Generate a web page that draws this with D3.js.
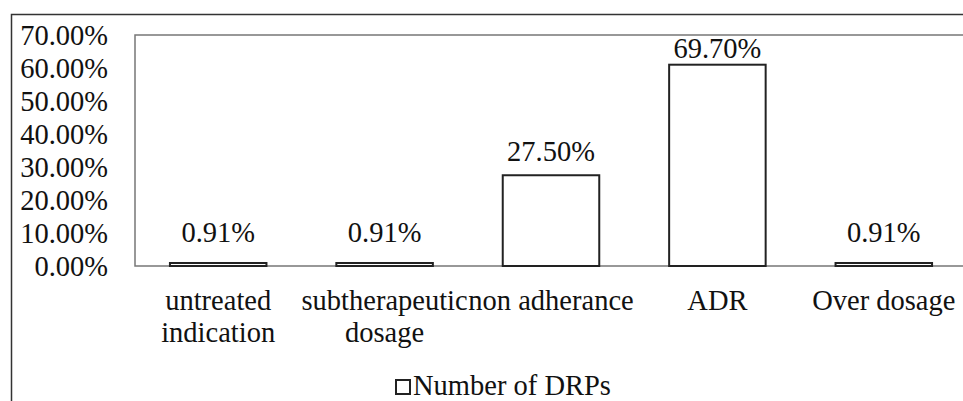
<!DOCTYPE html>
<html>
<head>
<meta charset="utf-8">
<script src="https://cdn.jsdelivr.net/npm/d3@7"></script>
<style>
  body { margin: 0; background: #fff; }
  svg text { font-family: "Liberation Serif", "Times New Roman", serif; fill: #111; }
</style>
</head>
<body>
<div id="chart"></div>
<script>
const categories = ["untreated\nindication", "subtherapeutic\ndosage", "non adherance", "ADR", "Over dosage"];
const values = [0.91, 0.91, 27.5, 61, 0.91];
const valueLabels = ["0.91%", "0.91%", "27.50%", "69.70%", "0.91%"];
const yTicks = [0, 10, 20, 30, 40, 50, 60, 70];
const seriesName = "Number of DRPs";

const W = 963, H = 401;
const plot = { left: 135, top: 35, right: 967, bottom: 266 };
const fontSize = 28.5;

const svg = d3.select("#chart").append("svg")
  .attr("width", W)
  .attr("height", H);

// outer frame (top and left edges visible)
svg.append("path")
  .attr("d", `M11.5,${H} V14.5 H${W}`)
  .attr("fill", "none")
  .attr("stroke", "#333")
  .attr("stroke-width", 1.5);

const x = d3.scaleBand()
  .domain(d3.range(categories.length))
  .range([plot.left, plot.right])
  .paddingInner(0.42)
  .paddingOuter(0.21);

const y = d3.scaleLinear()
  .domain([0, 70])
  .range([plot.bottom, plot.top]);

// plot area border
svg.append("path")
  .attr("d", `M${W},${plot.top} H${plot.left} V${plot.bottom} H${W}`)
  .attr("fill", "none")
  .attr("stroke", "#777")
  .attr("stroke-width", 1.5);

// y axis labels
const yAxis = d3.axisLeft(y)
  .tickValues(yTicks)
  .tickFormat(d => d.toFixed(2) + "%")
  .tickSize(0)
  .tickPadding(0);

svg.append("g")
  .attr("transform", `translate(108,0)`)
  .call(yAxis)
  .attr("font-family", null)
  .attr("font-size", null)
  .call(g => g.select(".domain").remove())
  .selectAll("text")
  .style("font-size", fontSize + "px")
  .attr("dy", "0.34em");

// bars
svg.append("g")
  .selectAll("rect")
  .data(values)
  .join("rect")
  .attr("x", (d, i) => x(i))
  .attr("y", d => y(d))
  .attr("width", x.bandwidth())
  .attr("height", d => y(0) - y(d))
  .attr("fill", "#fff")
  .attr("stroke", "#222")
  .attr("stroke-width", 2);

// value labels
svg.append("g")
  .selectAll("text")
  .data(values)
  .join("text")
  .attr("x", (d, i) => x(i) + x.bandwidth() / 2)
  .attr("y", d => {
    const h = y(0) - y(d);
    return y(d) - (21 - 0.07 * h);
  })
  .attr("text-anchor", "middle")
  .style("font-size", fontSize + "px")
  .text((d, i) => valueLabels[i]);

// category labels
const cat = svg.append("g")
  .selectAll("text")
  .data(categories)
  .join("text")
  .attr("x", (d, i) => x(i) + x.bandwidth() / 2)
  .attr("y", 310)
  .attr("text-anchor", "middle")
  .style("font-size", fontSize + "px");

cat.selectAll("tspan")
  .data(d => d.split("\n"))
  .join("tspan")
  .attr("x", function () { return d3.select(this.parentNode).attr("x"); })
  .attr("dy", (d, i) => i === 0 ? 0 : 32)
  .text(d => d);

// legend
const legend = svg.append("g");
legend.append("rect")
  .attr("x", 396)
  .attr("y", 380)
  .attr("width", 14)
  .attr("height", 14)
  .attr("fill", "#fff")
  .attr("stroke", "#222")
  .attr("stroke-width", 2);
legend.append("text")
  .attr("x", 413)
  .attr("y", 395)
  .style("font-size", fontSize + "px")
  .text(seriesName);
</script>
</body>
</html>
